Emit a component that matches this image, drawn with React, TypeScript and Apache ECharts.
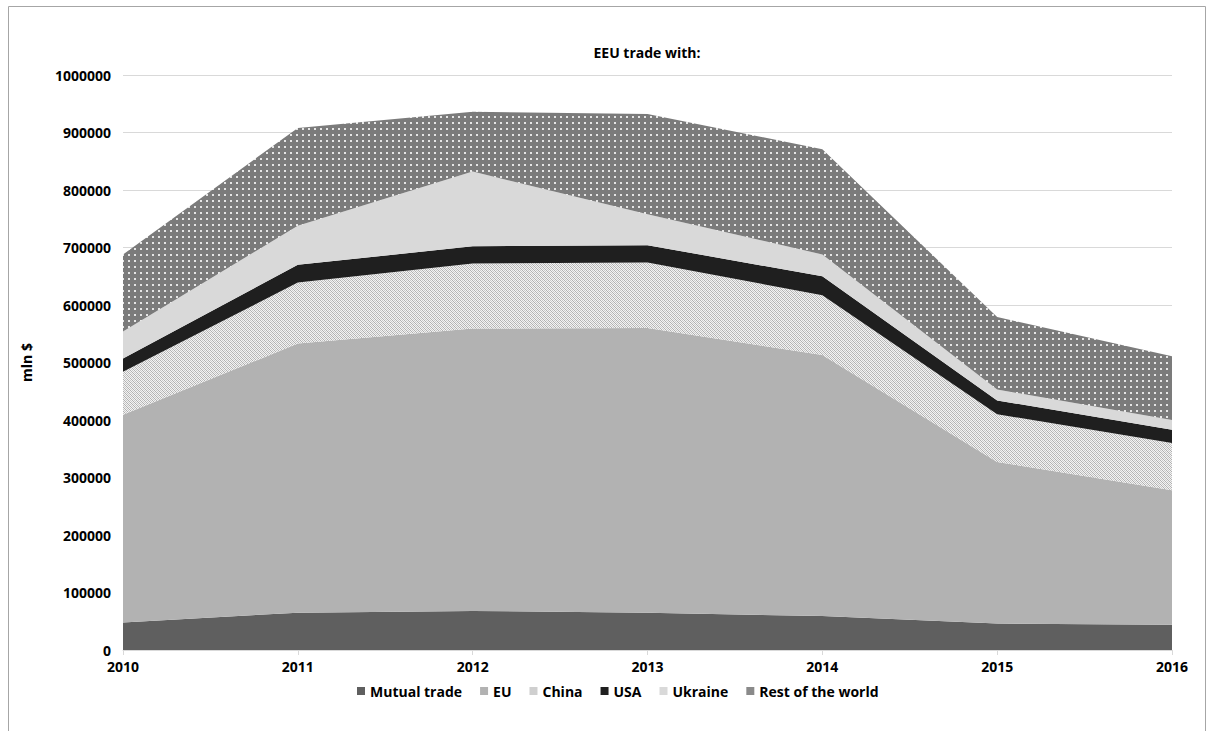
import React, { useEffect, useRef } from "react";
import * as echarts from "echarts";

const years = ["2010", "2011", "2012", "2013", "2014", "2015", "2016"];
const mutualTrade = [48000, 65000, 68000, 65000, 59000, 46000, 44000];
const eu = [361000, 468000, 491000, 495000, 454000, 281000, 234000];
const china = [75000, 106000, 113000, 114000, 104000, 83000, 82000];
const usa = [23000, 31000, 30000, 30000, 33000, 24000, 23000];
const ukraine = [47000, 68000, 130000, 54000, 38000, 19000, 17000];
const restOfWorld = [134000, 170000, 104000, 174000, 183000, 126000, 111000];

const FONT = "'Open Sans', 'Noto Sans', sans-serif";
const FS = 14;

function makeHatch(): string {
  const c = document.createElement("canvas");
  c.width = 4;
  c.height = 4;
  const ctx = c.getContext("2d")!;
  ctx.fillStyle = "#f3f3f3";
  ctx.fillRect(0, 0, 4, 4);
  for (let y = 0; y < 4; y++) {
    for (let x = 0; x < 4; x++) {
      if ((x + y) % 2 === 0) {
        ctx.fillStyle = (x - y + 8) % 4 === 0 ? "#b0b0b0" : "#c8c8c8";
        ctx.fillRect(x, y, 1, 1);
      }
    }
  }
  return c.toDataURL();
}

function makeDots(): string {
  const c = document.createElement("canvas");
  c.width = 6;
  c.height = 6;
  const ctx = c.getContext("2d")!;
  ctx.fillStyle = "#7b7b7b";
  ctx.fillRect(0, 0, 6, 6);
  ctx.fillStyle = "#e6e6e6";
  ctx.fillRect(2, 2, 2, 2);
  return c.toDataURL();
}

export default function App() {
  const ref = useRef<HTMLDivElement>(null);

  useEffect(() => {
    if (!ref.current) return;
    const chart = echarts.init(ref.current, undefined, { renderer: "svg" });
    const hatch = makeHatch();
    const dots = makeDots();

    const mk = (name: string, data: number[], color: string, area: any) => ({
      name,
      type: "line",
      stack: "total",
      data,
      color,
      symbol: "none",
      showSymbol: false,
      lineStyle: { width: 0 },
      areaStyle: { color: area, opacity: 1 },
      emphasis: { disabled: true },
    });

    chart.setOption({
      animation: false,
      backgroundColor: "#ffffff",
      textStyle: { fontFamily: FONT },
      graphic: [
        {
          type: "rect",
          shape: { x: 8.5, y: 6.5, width: 1197, height: 760 },
          style: { fill: "none", stroke: "#a6a6a6", lineWidth: 1 },
          silent: true,
        },
        {
          type: "text",
          x: 647,
          y: 52,
          style: {
            text: "EEU trade with:",
            fontFamily: FONT,
            fontWeight: "bold",
            fontSize: FS,
            fill: "#000000",
            textAlign: "center",
            textVerticalAlign: "middle",
          },
        },
      ],
      legend: {
        bottom: 28,
        left: 352,
        icon: "rect",
        itemWidth: 8,
        itemHeight: 8,
        itemGap: 18,
        textStyle: { fontFamily: FONT, fontWeight: "bold", fontSize: FS, color: "#000" },
        data: ["Mutual trade", "EU", "China", "USA", "Ukraine", "Rest of the world"],
      },
      grid: { left: 123, right: 42, top: 75, bottom: 81 },
      xAxis: {
        type: "category",
        data: years,
        boundaryGap: false,
        axisLine: { lineStyle: { color: "#d9d9d9" } },
        axisTick: { show: true, length: 5, lineStyle: { color: "#d9d9d9" } },
        axisLabel: { fontFamily: FONT, fontWeight: "bold", fontSize: FS, color: "#000", margin: 9 },
      },
      yAxis: {
        type: "value",
        min: 0,
        max: 1000000,
        interval: 100000,
        name: "mln $",
        nameLocation: "middle",
        nameGap: 90,
        nameRotate: 90,
        nameTextStyle: { fontFamily: FONT, fontWeight: "bold", fontSize: FS, color: "#000" },
        axisLine: { show: false },
        axisTick: { show: false },
        splitLine: { lineStyle: { color: "#d9d9d9" } },
        axisLabel: {
          fontFamily: FONT,
          fontWeight: "bold",
          fontSize: FS,
          color: "#000",
          margin: 12,
          formatter: (v: number) => String(v),
        },
      },
      series: [
        mk("Mutual trade", mutualTrade, "#5f5f5f", "#5f5f5f"),
        mk("EU", eu, "#b2b2b2", "#b2b2b2"),
        mk("China", china, "#cfcfcf", { image: hatch, repeat: "repeat", imageWidth: 4, imageHeight: 4 }),
        mk("USA", usa, "#1f1f1f", "#1f1f1f"),
        mk("Ukraine", ukraine, "#d9d9d9", "#d9d9d9"),
        mk("Rest of the world", restOfWorld, "#8a8a8a", { image: dots, repeat: "repeat", imageWidth: 6, imageHeight: 6 }),
      ],
    });

    return () => chart.dispose();
  }, []);

  return (
    <div
      ref={ref}
      style={{ position: "absolute", left: 0, top: 0, width: 1214, height: 731 }}
    />
  );
}
